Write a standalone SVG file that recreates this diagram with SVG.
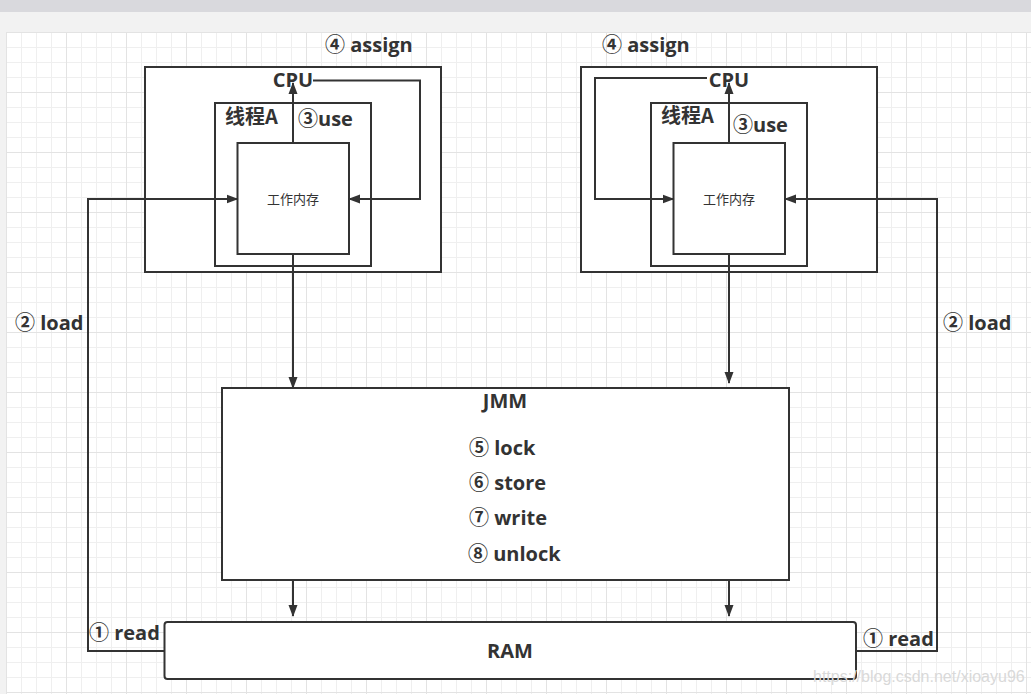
<svg xmlns="http://www.w3.org/2000/svg" width="1031" height="694" viewBox="0 0 1031 694">
<style>
.box{fill:#fff;stroke:#333;stroke-width:2}
.ln{fill:none;stroke:#333;stroke-width:2}
.arr{fill:none;stroke:#333;stroke-width:2;marker-end:url(#ah)}
.t{font-family:"Open Sans","Noto Sans CJK SC",sans-serif;font-weight:bold;fill:#333;font-size:20px}
.cn{font-family:"Noto Sans CJK SC",sans-serif;font-weight:bold;fill:#333;font-size:20px}
.s{font-family:"Noto Sans CJK SC",sans-serif;font-size:13px;fill:#333}
</style>
<defs>
<marker id="ah" markerWidth="12" markerHeight="10" refX="11" refY="5" orient="auto" markerUnits="userSpaceOnUse">
<path d="M0,0.5 L12,5 L0,9.5 Z" fill="#333"/>
</marker>
<pattern id="grid" patternUnits="userSpaceOnUse" x="6" y="32" width="60" height="60">
<rect width="60" height="60" fill="#fff"/>
<path d="M15.5,0V60M30.5,0V60M45.5,0V60M0,15.5H60M0,30.5H60M0,45.5H60" stroke="#efefef" stroke-width="1"/>
<path d="M0.5,0V60M0,0.5H60" stroke="#e3e3e3" stroke-width="1"/>
</pattern>
</defs>
<rect width="1031" height="694" fill="#f2f2f2"/>
<rect width="1031" height="12" fill="#d9d9dd"/>
<rect x="6" y="32" width="1025" height="662" fill="url(#grid)"/>

<g id="cpu-left">
<rect class="box" x="145" y="67" width="296" height="205"/>
<rect class="box" x="215" y="103" width="156" height="163"/>
<rect class="box" x="237.5" y="143" width="111.5" height="111"/>
<text class="t" x="293" y="87" text-anchor="middle">CPU</text>
<text class="cn" x="225" y="124">线程A</text>
<text class="t" x="298" y="126">③use</text>
<text class="s" x="293" y="204" text-anchor="middle">工作内存</text>
</g>

<g id="cpu-right">
<rect class="box" x="581" y="67" width="296" height="205"/>
<rect class="box" x="651" y="103" width="156" height="163"/>
<rect class="box" x="673.5" y="143" width="111.5" height="111"/>
<text class="t" x="729" y="87" text-anchor="middle">CPU</text>
<text class="cn" x="661" y="123">线程A</text>
<text class="t" x="733" y="132">③use</text>
<text class="s" x="729" y="204" text-anchor="middle">工作内存</text>
</g>

<g id="jmm">
<rect class="box" x="222" y="388" width="567" height="192"/>
<text class="t" x="505" y="408" text-anchor="middle">JMM</text>
<text class="t" x="469" y="455">⑤ lock</text>
<text class="t" x="469" y="490">⑥ store</text>
<text class="t" x="469" y="525">⑦ write</text>
<text class="t" x="468" y="561">⑧ unlock</text>
</g>

<g id="ram">
<rect class="box" x="164.5" y="622" width="691.5" height="57" rx="3"/>
<text class="t" x="510" y="658" text-anchor="middle">RAM</text>
</g>

<g id="connectors">
<path class="arr" d="M293,143 V83"/>
<path class="arr" d="M729,143 V83"/>
<path class="arr" d="M313,80.5 H420 V199 H349"/>
<path class="arr" d="M707,78 H595 V199 H673.5"/>
<path class="arr" d="M164.5,651 H88 V199 H237.5"/>
<path class="arr" d="M856,651 H937 V199 H785"/>
<path class="arr" d="M293,254 V388"/>
<path class="arr" d="M729,254 V383"/>
<path class="arr" d="M293,580 V616"/>
<path class="arr" d="M729,580 V616"/>
</g>

<g id="labels">
<text class="t" x="325" y="52">④ assign</text>
<text class="t" x="602" y="52">④ assign</text>
<text class="t" x="15" y="330">② load</text>
<text class="t" x="943" y="330">② load</text>
<text class="t" x="89" y="640">① read</text>
<text class="t" x="863" y="646">① read</text>
</g>
<text x="813" y="682" font-family="Liberation Sans,sans-serif" font-size="16" fill="#d9d9d9">https://blog.csdn.net/xioayu96</text>
</svg>
